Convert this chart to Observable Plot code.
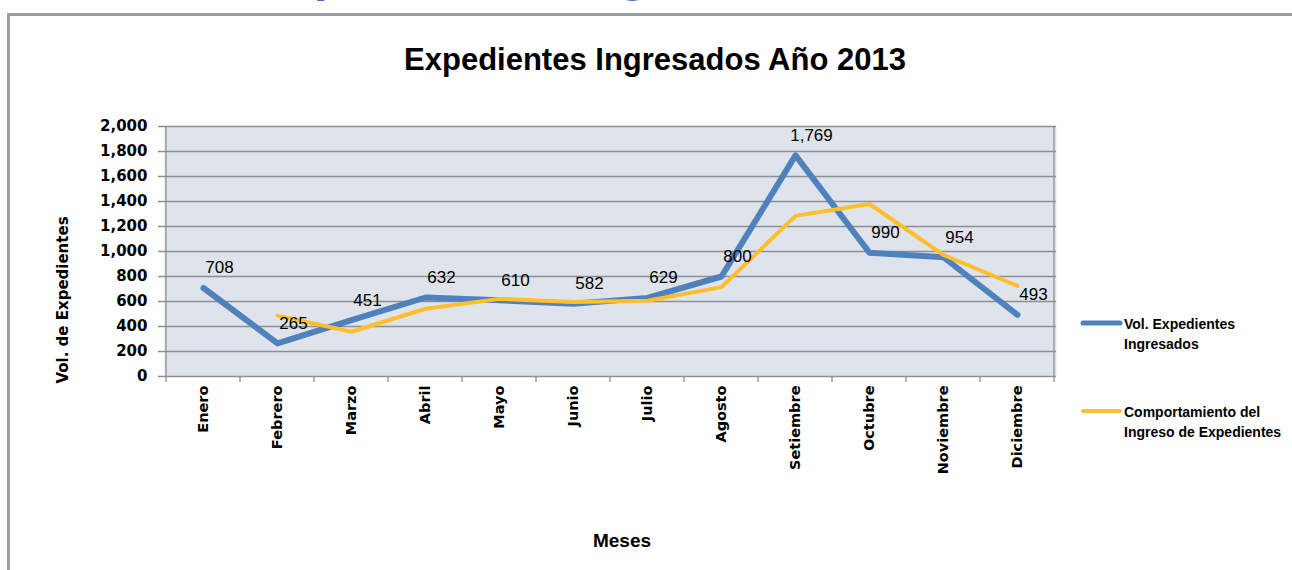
<!DOCTYPE html>
<html><head><meta charset="utf-8">
<script src="https://cdn.jsdelivr.net/npm/d3@7"></script>
<script src="https://cdn.jsdelivr.net/npm/@observablehq/plot@0.6"></script>
<style>
body{margin:0;background:#fff;}
#chart{position:relative;width:1292px;height:570px;overflow:hidden;}
#chart svg{overflow:visible;}
</style>
</head><body><div id="chart"></div>
<script>
const months = ["Enero","Febrero","Marzo","Abril","Mayo","Junio","Julio","Agosto","Setiembre","Octubre","Noviembre","Diciembre"];
const volumen = [708,265,451,632,610,582,629,800,1769,990,954,493];
const comportamiento = [null,487,358,542,621,596,606,715,1285,1380,972,724];
const yTicks = [0,200,400,600,800,1000,1200,1400,1600,1800,2000];
const seriesNames = [["Vol. Expedientes","Ingresados"],["Comportamiento del","Ingreso de Expedientes"]];
const colors = ["#4F81BD","#FFBE2E"];
const chartTitle = "Expedientes Ingresados Año 2013";
const yTitle = "Vol. de Expedientes";
const xTitle = "Meses";
const heading = "Expedientes Ingresados";

const volData = months.map((m,i)=>({month:m, value:volumen[i]}));
const compData = months.map((m,i)=>({month:m, value:comportamiento[i]})).filter(d=>d.value!=null);
const fmt = d3.format(",");
const grid = "#8e8e8e";

const plot = Plot.plot({
  width:1292, height:570,
  marginTop:126, marginRight:236, marginBottom:194, marginLeft:164,
  style:{background:"transparent", overflow:"visible"},
  x:{type:"band", domain:months, padding:0, label:null},
  y:{domain:[0,2000], label:null},
  marks:[
    Plot.frame({fill:"#DFE4EC", stroke:"none"}),
    Plot.ruleY(yTicks,{stroke:grid, strokeWidth:1.3, insetLeft:-6}),
    Plot.axisY(yTicks,{tickFormat:fmt, tickSize:0, tickPadding:17, fontSize:15, fontWeight:"bold", fontFamily:"DejaVu Sans", label:null}),
    Plot.axisX({tickRotate:-90, tickSize:0, tickPadding:9, fontSize:14.5, fontWeight:"bold", fontFamily:"DejaVu Sans", label:null}),
    Plot.line(volData,{x:"month", y:"value", stroke:colors[0], strokeWidth:6, strokeLinecap:"round"}),
    Plot.line(compData,{x:"month", y:"value", stroke:colors[1], strokeWidth:4, strokeLinecap:"round"}),
    Plot.text(volData,{x:"month", y:"value", text:d=>fmt(d.value), dx:16, dy:-20, fontSize:17, fontFamily:"Liberation Sans", fill:"#000"})
  ]
});
document.getElementById("chart").appendChild(plot);

const svg = d3.select(plot);
const xs = plot.scale("x");
const ys = plot.scale("y");
const bw = xs.bandwidth;
const y0 = ys.apply(0), yTop = ys.apply(2000);
const xL = xs.apply(months[0]), xR = xs.apply(months[months.length-1]) + bw;
// frame side edges
svg.append("line").attr("x1",xR).attr("x2",xR).attr("y1",yTop).attr("y2",y0).attr("stroke",grid).attr("stroke-width",1.3);
svg.append("line").attr("x1",xL).attr("x2",xL).attr("y1",yTop).attr("y2",y0).attr("stroke",grid).attr("stroke-width",1.3);
// x tick marks at band boundaries
months.concat([null]).forEach((m)=>{
  const x = m==null ? xR : xs.apply(m);
  svg.append("line").attr("x1",x).attr("x2",x).attr("y1",y0).attr("y2",y0+6).attr("stroke",grid).attr("stroke-width",1.3);
});
// border
svg.append("line").attr("x1",8.5).attr("x2",1292).attr("y1",14.5).attr("y2",14.5).attr("stroke","#9b9ea6").attr("stroke-width",3);
svg.append("line").attr("x1",8.5).attr("x2",8.5).attr("y1",13).attr("y2",570).attr("stroke","#9b9ea6").attr("stroke-width",3);
// page heading above the chart (only its descenders are inside the picture)
svg.append("text").attr("x",250).attr("y",-10).attr("text-anchor","start").attr("font-family","Liberation Sans").attr("font-weight","bold").attr("font-size",52).attr("fill","#4A6FBE").text(heading);
// title
svg.append("text").attr("x",655).attr("y",70).attr("text-anchor","middle").attr("font-family","Liberation Sans").attr("font-weight","bold").attr("font-size",31).attr("fill","#000").text(chartTitle);
// axis titles
svg.append("text").attr("transform","translate(68,300) rotate(-90)").attr("text-anchor","middle").attr("font-family","DejaVu Sans").attr("font-weight","bold").attr("font-size",15).attr("fill","#000").text(yTitle);
svg.append("text").attr("x",622).attr("y",547).attr("text-anchor","middle").attr("font-family","Liberation Sans").attr("font-weight","bold").attr("font-size",19).attr("fill","#000").text(xTitle);
// legend
const legY = [323, 411];
seriesNames.forEach((lines,i)=>{
  svg.append("line").attr("x1",1083).attr("x2",1120).attr("y1",legY[i]).attr("y2",legY[i]).attr("stroke",colors[i]).attr("stroke-width",i==0?5:4).attr("stroke-linecap","round");
  lines.forEach((t,j)=>{
    svg.append("text").attr("x",1124).attr("y",legY[i]+6+j*20).attr("text-anchor","start").attr("font-family","Liberation Sans").attr("font-weight","bold").attr("font-size",14).attr("fill","#000").text(t);
  });
});
</script>
</body></html>
